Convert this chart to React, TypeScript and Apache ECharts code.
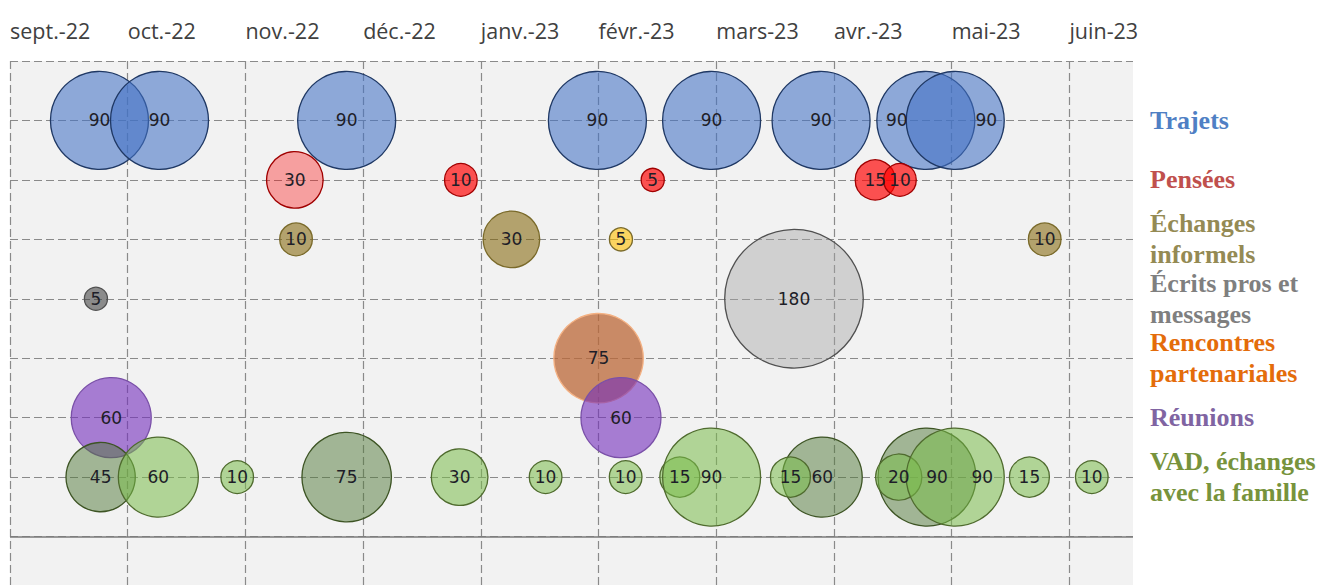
import React, { useEffect, useRef } from "react";
import * as echarts from "echarts";

// Month tick labels (x = months since sept.-22)
const months = ["sept.-22", "oct.-22", "nov.-22", "déc.-22", "janv.-23", "févr.-23", "mars-23", "avr.-23", "mai-23", "juin-23"];

// Row labels (top to bottom); row y value = 7 - index
const rowNames = [
  "Trajets",
  "Pensées",
  "Échanges\ninformels",
  "Écrits pros et\nmessages",
  "Rencontres\npartenariales",
  "Réunions",
  "VAD, échanges\navec la famille",
];
const rowColors = ["#4f7fc4", "#c0504d", "#948a54", "#7f7f7f", "#e46c0a", "#8064a2", "#77933c"];

// Series data: x positions (months since sept.-22) and durations
const trajetsX = [0.76, 1.27, 2.86, 4.99, 5.96, 6.89, 7.78, 8.03];
const trajetsV = [90, 90, 90, 90, 90, 90, 90, 90];

const penseesX = [2.42, 3.83, 5.46, 7.35, 7.56];
const penseesV = [30, 10, 5, 15, 10];

const echangesX = [2.43, 4.26, 5.19, 8.79];
const echangesV = [10, 30, 5, 10];

const ecritsX = [0.73, 6.66];
const ecritsV = [5, 180];

const rencontresX = [5.0];
const rencontresV = [75];

const reunionsX = [0.86, 5.19];
const reunionsV = [60, 60];

const vadFonceX = [0.77, 2.86, 6.9, 7.79];
const vadFonceV = [45, 75, 60, 90];

const vadClairX = [1.26, 1.93, 3.82, 4.55, 5.23, 5.69, 5.96, 6.63, 7.55, 8.03, 8.66, 9.19];
const vadClairV = [60, 10, 30, 10, 10, 15, 90, 15, 20, 90, 15, 10];

export default function App() {
  const ref = useRef<HTMLDivElement>(null);

  useEffect(() => {
    if (!ref.current) return;
    const chart = echarts.init(ref.current, null, { renderer: "svg" });

    const labelBase = {
      show: true,
      position: "inside",
      fontFamily: "DejaVu Sans",
      fontSize: 17,
      color: "#1e1e28",
      formatter: (p: any) => String(p.value[2]),
    };

    const mk = (
      name: string,
      xs: number[],
      vs: number[],
      y: number,
      fill: string,
      border: string,
      pointFills?: (string | null)[],
      labelShift?: number[]
    ) => ({
      type: "scatter",
      name,
      symbol: "circle",
      symbolSize: (val: number[]) => 10.33 * Math.sqrt(val[2]),
      itemStyle: { color: fill, borderColor: border, borderWidth: 1.3, opacity: 1 },
      label: labelBase,
      z: 3,
      data: xs.map((x, i) => {
        const d: any = { value: [x, y, vs[i]] };
        if (pointFills && pointFills[i]) d.itemStyle = { color: pointFills[i] };
        if (labelShift && labelShift[i]) d.label = { offset: [labelShift[i], 0] };
        return d;
      }),
    });

    const rich: any = {};
    rowNames.forEach((_, i) => {
      rich["r" + i] = {
        color: rowColors[i],
        fontFamily: "Liberation Serif",
        fontWeight: "bold",
        fontSize: 26,
        lineHeight: 31,
      };
    });

    const xSplitColors = months.map(() => "#8a8a8a").concat(["transparent"]);

    const vadClair = mk(
      "VAD clair",
      vadClairX,
      vadClairV,
      1,
      "rgba(122,187,75,0.55)",
      "#4f6b2e",
      undefined,
      [0, 0, 0, 0, 0, 0, 0, 0, 0, 27, 0, 0]
    ) as any;
    vadClair.markLine = {
      silent: true,
      symbol: ["none", "none"],
      label: { show: false },
      lineStyle: { color: "#7a7a7a", width: 1.5, type: "solid" },
      data: [{ yAxis: 0 }],
    };

    chart.setOption({
      animation: false,
      grid: {
        left: 10,
        right: 193,
        top: 61,
        bottom: 4,
        show: true,
        backgroundColor: "#f2f2f2",
        borderWidth: 0,
        outerBoundsMode: "none",
      },
      xAxis: {
        type: "value",
        position: "top",
        min: 0,
        max: 9.54,
        interval: 1,
        axisLine: { show: false },
        axisTick: { show: false },
        axisLabel: {
          show: true,
          align: "left",
          margin: 20,
          fontFamily: "Open Sans",
          fontSize: 21.5,
          color: "#404040",
          formatter: (v: number) => (Number.isInteger(v) && months[v] ? months[v] : ""),
        },
        splitLine: { show: true, lineStyle: { color: xSplitColors, type: [8, 4], width: 1.2 } },
      },
      yAxis: [
        {
          type: "value",
          min: -1,
          max: 8,
          interval: 1,
          axisLine: { show: false },
          axisTick: { show: false },
          axisLabel: { show: false },
          splitLine: { show: true, lineStyle: { color: "#8a8a8a", type: [8, 4], width: 1.2 } },
        },
        {
          type: "value",
          position: "right",
          min: -1,
          max: 8,
          interval: 1,
          axisLine: { show: false },
          axisTick: { show: false },
          splitLine: { show: false },
          axisLabel: {
            show: true,
            align: "left",
            margin: 17,
            rich,
            formatter: (v: number) => {
              const i = 7 - v;
              if (!Number.isInteger(v) || i < 0 || i >= rowNames.length) return "";
              return rowNames[i]
                .split("\n")
                .map((l) => `{r${i}|${l}}`)
                .join("\n");
            },
          },
        },
      ],
      series: [
        mk("Trajets", trajetsX, trajetsV, 7, "rgba(68,114,196,0.58)", "#1f3864", undefined, [0, 0, 0, 0, 0, 0, -29, 31]),
        mk("Pensées", penseesX, penseesV, 6, "rgba(255,0,0,0.67)", "#a00000", ["rgba(255,0,0,0.34)", null, null, null, null]),
        mk("Échanges informels", echangesX, echangesV, 5, "rgba(127,96,0,0.55)", "#7a6a2a", [null, null, "rgba(255,192,0,0.6)", null]),
        mk("Écrits pros et messages", ecritsX, ecritsV, 4, "rgba(64,64,64,0.58)", "#505050", [null, "rgba(165,165,165,0.44)"]),
        mk("Rencontres partenariales", rencontresX, rencontresV, 3, "rgba(187,103,55,0.75)", "#f4b183"),
        mk("Réunions", reunionsX, reunionsV, 2, "rgba(115,45,189,0.6)", "#7a50a8"),
        mk("VAD foncé", vadFonceX, vadFonceV, 1, "rgba(80,120,55,0.5)", "#3d5424", undefined, [0, 0, 0, 10]),
        vadClair,
      ],
    });

    return () => chart.dispose();
  }, []);

  return (
    <div
      style={{
        position: "fixed",
        left: 0,
        top: 0,
        width: 1326,
        height: 585,
        overflow: "hidden",
        background: "#fff",
      }}
    >
      <div ref={ref} style={{ width: 1326, height: 600 }} />
    </div>
  );
}
